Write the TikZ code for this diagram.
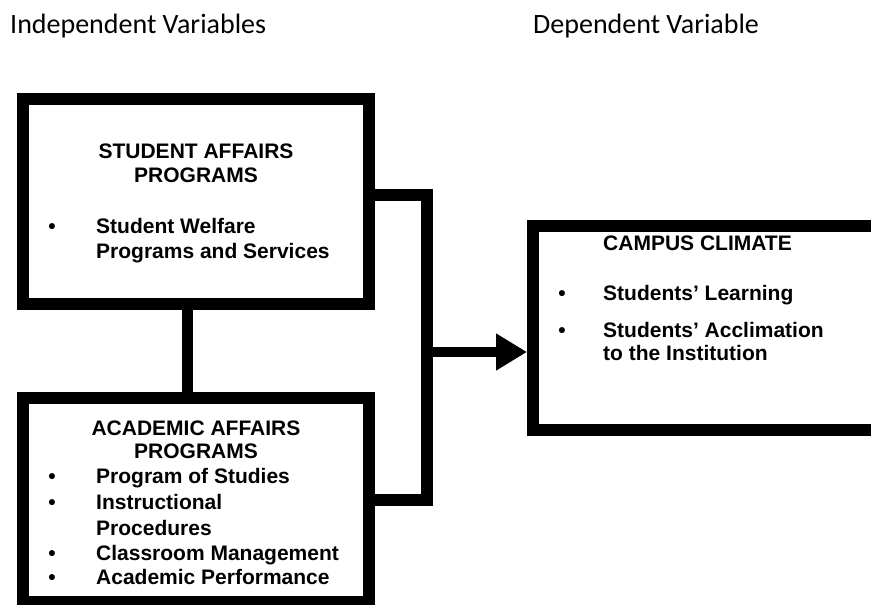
\documentclass[tikz,border=0pt]{standalone}
\usepackage{fontspec}
\setmainfont{Liberation Sans}
\newfontfamily\hdfont{Carlito}
\usetikzlibrary{arrows.meta}
\tikzset{
	varbox/.style={draw,line width=12pt,inner sep=0pt},
	boxtxt/.style={inner sep=0pt,anchor=base west,font=\fontsize{21}{25}\selectfont\bfseries},
	hdtxt/.style={inner sep=0pt,anchor=base west,font=\hdfont\fontsize{28}{34}\selectfont}
}
\begin{document}
\begin{tikzpicture}[x=1pt,y=-1pt,line join=miter]
	\useasboundingbox (0,0) rectangle (871,605);
	\path
	(196,201.5) node[varbox,minimum width=346pt,minimum height=205pt] (sap) {}
	(196,500) node[varbox,minimum width=346pt,minimum height=204pt] (aap) {}
	(710,327.5) node[varbox,minimum width=354pt,minimum height=204pt] (cc) {}
	(426.5,195) coordinate (jt)
	(426.5,352) coordinate (jm)
	(426.5,500) coordinate (jb)
	;
	\node[hdtxt] (ivhd) at (10,33) {Independent Variables};
	\node[hdtxt] (dvhd) at (533,33) {Dependent Variable};
	\draw[line width=11pt] ([xshift=-8.5pt]sap.south) -- ([xshift=-8.5pt]aap.north);
	\draw[line width=12pt] (sap.east |- jt) -- (jt) -- (jb) -- (aap.east |- jb);
	\draw[line width=10pt,-{Triangle[length=31pt,width=35pt]}] (jm) -- (jm -| cc.west);
	\node[boxtxt,anchor=base] (sapt1) at (196,158) {STUDENT AFFAIRS};
	\node[boxtxt,anchor=base] (sapt2) at (196,182) {PROGRAMS};
	\node[boxtxt,anchor=base] (aapt1) at (196,435) {ACADEMIC AFFAIRS};
	\node[boxtxt,anchor=base] (aapt2) at (196,458) {PROGRAMS};
	\node[boxtxt] (cct) at (603,250) {CAMPUS CLIMATE};
	\foreach \t/\y [count=\i] in {Student Welfare/233,Programs and Services/258}
		\node[boxtxt] (sapl\i) at (96,\y) {\t};
	\foreach \t/\y [count=\i] in {Program of Studies/483,Instructional/509,Procedures/535,Classroom Management/560,Academic Performance/584}
		\node[boxtxt] (aapl\i) at (96,\y) {\t};
	\foreach \t/\y [count=\i] in {Students’ Learning/300,Students’ Acclimation/337,to the Institution/360}
		\node[boxtxt] (ccl\i) at (603,\y) {\t};
	\foreach \x/\y [count=\i] in {52/233,52/483,52/509,52/560,52/584,562/300,562/337}
		\node[boxtxt,anchor=base] (blt\i) at (\x,\y) {•};
\end{tikzpicture}
\end{document}
